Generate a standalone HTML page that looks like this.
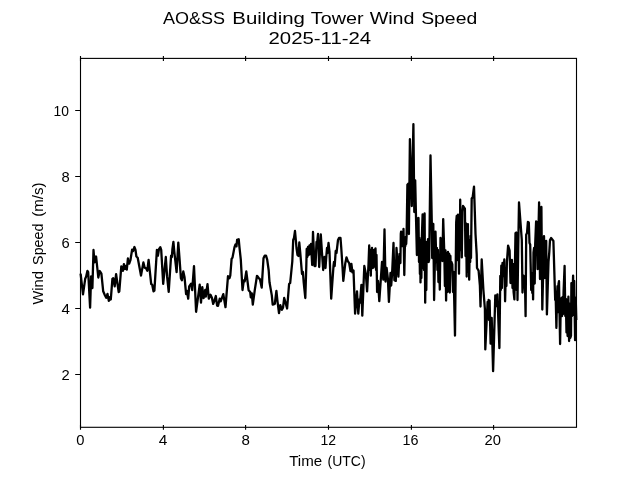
<!DOCTYPE html>
<html><head><meta charset="utf-8">
<style>
html,body{margin:0;padding:0;background:#fff;}
svg{display:block;}
text{font-family:"Liberation Sans",sans-serif;fill:#000;}
text{filter:grayscale(1)}
</style></head>
<body>
<svg width="640" height="480" viewBox="0 0 640 480">
<rect width="640" height="480" fill="#fff"/>
<!-- title -->
<g font-size="17" id="t1">
<text id="w1" x="163" y="23.5" textLength="62" lengthAdjust="spacingAndGlyphs">AO&amp;SS</text>
<text id="w2" x="232.3" y="23.5" textLength="72.6" lengthAdjust="spacingAndGlyphs">Building</text>
<text id="w3" x="310.8" y="23.5" textLength="52.8" lengthAdjust="spacingAndGlyphs">Tower</text>
<text id="w4" x="369.7" y="23.5" textLength="44.8" lengthAdjust="spacingAndGlyphs">Wind</text>
<text id="w5" x="421.2" y="23.5" textLength="56" lengthAdjust="spacingAndGlyphs">Speed</text>
</g>
<text id="w6" x="268.5" y="44" font-size="17" textLength="102.7" lengthAdjust="spacingAndGlyphs">2025-11-24</text>
<!-- line -->
<polyline id="ln" fill="none" stroke="#000" stroke-width="2.3" stroke-linejoin="round" stroke-linecap="butt" points="80.6,273.6 83,294.3 85.2,278.8 86.1,276.8 87.4,270.9 88.2,272.2 90.1,307.7 91.1,276.4 92.4,288 93.5,250 94.5,262.4 96.1,256.5 98.3,277.5 99.7,271 101.4,273.6 103.2,291.3 104.9,295.2 106.2,297.8 107.5,293.9 108.8,300.9 109.9,297.2 110.8,299.5 112.4,278.8 113.2,278.2 114.7,286.4 116.1,274.2 118.7,292.2 119.3,291.3 121.3,266.3 122.9,270.9 123.9,264.1 125,269 126.3,265.7 126.8,269.6 127.9,258.5 129.2,263.7 130.5,259.8 132.1,249.7 133.1,251 134.4,247 135.5,250 136.4,256.5 137.7,257.8 141,275.5 143.4,262.4 144.7,267.7 146,268.3 147.3,270.7 148.6,259.8 151.2,284.1 152.2,284.7 153.5,291.3 154.4,290.6 156.9,249.8 157.9,255.7 159,249.1 160.3,247.2 161.2,249.8 163.2,283.9 165.8,257 167.1,276.7 168.7,291.8 171.1,255.7 171.9,257 172.4,249.1 173.4,241.9 174.3,251.7 176.6,272.1 178.3,242.6 179.6,259.6 180.9,278.2 181.9,280.2 183.3,271.4 184.5,276.9 186.1,294.1 186.9,290.8 188.2,298.7 189.2,286.4 191.1,283.6 192.2,290.1 194,266.2 196.1,311.8 199.7,284.6 201,302.6 202.3,287.2 203.6,298 205.2,289.9 205.8,296.7 207.5,284.2 208.8,298.7 210.5,294.7 211.9,297.7 213.2,303.9 214.5,300.6 215.8,296 217.1,305.6 218,305.9 219.7,298.7 220.7,301.3 223.3,294.1 225.5,307.2 228,276.2 229.5,278.2 230.3,275.5 231.6,258.9 232.5,257.6 234.5,247.1 235.5,244.5 236.5,246.4 237.1,239.9 238.7,239.2 239.5,247.7 240.8,259.6 242.5,290 243.8,280.5 244.7,281.4 246.3,271.4 248.6,290.2 250.2,292 250.8,297.3 251.8,293.4 252.8,304.6 254.8,289.9 257,275.8 258.5,277.8 260,279.4 261.7,287.6 263.5,258.3 264.7,255.6 266,255.6 267.2,259.6 268.7,270.5 269.5,282.3 271.8,295.4 272.7,304.6 274.8,303.9 276.4,290.8 277.4,300.6 279,313.1 280.3,305.2 281.9,309.8 283,307.8 284.2,298 285.3,301.9 287.1,308.5 289.1,284 290.2,282.9 292.3,261.5 293.2,240 294,238 295,231 296,242 296.5,248 297.5,255 298.5,256 299.3,242.5 300.2,252 302,274 302.9,271.8 303.7,282.3 305.3,298 306.3,266 306.7,249 307.3,257 308,247 308.7,255 309.5,245.5 310.2,254 311,244 312.2,265 313,232 314.5,266 315.5,266 316.5,242 317,244 318,234 319.2,267 320.8,234.5 322,253 323.2,270 324.5,257 325.5,268 326.5,254 327,248 327.5,253 328.5,243 329.5,252 331.2,298.7 333.5,266 334,262 334.7,266 335.7,251 336.5,253 338,240 339,238 340.5,238 341.2,247 342.5,267 343.3,280.9 345.3,263.2 346.5,257.3 347.8,261.2 349.2,263.2 350.5,271.1 351.4,263.8 352.4,272.4 353.5,270.4 355.1,313.7 357,291.4 358.3,313.7 359.4,299.3 360,302.6 361.4,284.8 362.3,315.7 364.3,266 365.8,273.7 367.1,291.4 368.5,264.5 369.2,245.5 369.9,270 370.3,250 370.8,275.7 371.4,252 372,248 372.6,268 373,250 373.6,267.5 374.2,250 374.8,266 375.5,248.5 376.1,270 376.5,255 377.1,292 378,281 379.3,301.2 382,262 383.3,279.6 384.5,229.5 385.5,281.6 386.6,267.8 387.9,279 388.9,301.9 390.5,273 391.2,285.5 392.1,273.7 393.5,243 394.4,280.2 395.8,280.9 396.5,248 398.4,276.7 399.5,254 400.4,263 400.8,234 401.1,231.6 401.5,246 401.9,233 402.3,246 402.7,232 403.1,245 403.5,229 404.3,275 405,240 405.4,246 405.8,237 406.2,244 406.6,236 407.4,184.8 408.5,183.5 408.9,234 409.9,139.2 411.8,206 413.4,124.2 414.3,212 415.2,180.4 416,217 416.9,255 417.7,218.5 418.5,217.9 419,262 419.4,238 419.9,274 420.2,245 420.5,282.4 421,240 421.4,278 421.9,236 422.6,214.5 423.1,268 423.6,224 424,270 424.6,213.4 425.2,302.7 425.8,245 426.3,290 426.8,242 427.4,262 428,239.2 428.6,262 429.2,259.2 430.5,155.5 431.8,223.5 432.2,258 432.7,224 433.3,224 434.1,300 435.5,231.7 436.3,262 436.9,248 437.4,270 437.9,250 438.4,282 439,256 439.8,289.6 440.5,238 441,258 441.6,243 442.4,261 443.2,219.1 444.3,253 444.9,286 445.5,250.5 446.1,300.6 446.8,254 447.4,292 448,252 448.6,291 449.2,254 449.8,292.5 450.4,256 450.8,270 451.4,262 452.3,264.5 453,292 453.6,272 455,335.6 456.2,222 456.7,216 457.2,260 457.6,218 458,214.7 459,273.7 459.6,215 460,250 460.2,199.7 460.8,250 461.2,212 461.8,257.4 462.4,212 463,206 464.9,208.7 465.5,256 466.1,223.5 466.7,276.6 467.2,228 467.6,270 467.9,224.1 468.4,272 468.8,240 469.2,279.7 469.8,242 470.2,262 470.6,236 471,258 471.7,198.5 472.7,197.2 474,186.6 475.5,233.7 476.7,254.5 477,268 478.6,270.7 479.9,285.7 480.5,306.5 481.7,259.5 483.4,290 484.9,309 485.3,349.4 487.6,302 488.1,318 488.6,300 489.1,320 489.6,300.6 490.6,343.7 491.7,318 493.1,371.2 495.3,295.3 496.4,306 497.4,294.4 499.4,348.1 500.3,276 500.8,290 501.3,265.7 501.9,288 502.5,263 503.4,276 504.3,259.5 505.1,301.3 505.9,268 506.4,286 506.9,262 508.1,245.6 509.6,250.5 510.5,283 511.2,262 511.9,259.9 512.5,288 513,264 513.6,292 514.4,299.4 515,262 515.5,233.1 516.2,232.5 516.7,290 517.1,250 517.5,300 518.2,250 519,202.5 521.8,240 522.5,292.5 523.6,275.7 524.9,278 525.6,316.2 526.2,234.7 527,233 527.9,221.9 528.8,222.5 529.5,243 530.2,244.5 530.6,263 531.2,290 531.7,273 532.3,293 532.7,278 533.1,299.4 533.5,252.7 534.1,248 534.7,283.5 535.2,244.1 536.1,221.5 536.8,222 537.6,269.2 539.1,202.4 540,279 541.4,206.9 542.3,309.5 544,236.1 544.9,278 546.2,241 546.9,314.4 548.5,262 549.3,252 550,240 551.1,238 553.4,241 555.2,300 555.6,292 556.4,327.9 557,296 557.5,286.1 558,312 558.5,284 559,281.2 559.6,316 560.1,344 560.8,299 561.2,316 561.6,298 562.1,316 562.6,297 563.1,314 563.6,291 564.6,265.9 565.3,316 565.8,299 566.5,332.4 567,300 567.6,336 568.4,296.7 569.1,341 569.7,304 570.3,338 571,335.7 571.4,283.1 572,316 572.5,296 573.1,275.6 573.7,315 574.2,281 575.1,340.2 575.7,298 576.3,320"/>
<!-- spines -->
<rect x="80.5" y="58.4" width="496" height="368.9" fill="none" stroke="#000" stroke-width="1.11"/>
<!-- x ticks -->
<g stroke="#000" stroke-width="1.11">
<path d="M80.5 424.9v4.9M163.4 424.9v4.9M245.6 424.9v4.9M328.5 424.9v4.9M411.4 424.9v4.9M493.6 424.9v4.9"/>
<path d="M80.5 56v4.9M163.4 56v4.9M245.6 56v4.9M328.5 56v4.9M411.4 56v4.9M493.6 56v4.9"/>
<path d="M75.2 110.5h5M75.2 176.5h5M75.2 242.5h5M75.2 308.5h5M75.2 374.5h5"/>
</g>
<!-- tick labels -->
<g font-size="14.1">
<text x="76.2" y="445.2" textLength="8.2" lengthAdjust="spacingAndGlyphs">0</text>
<text x="158.8" y="445.2" textLength="8.6" lengthAdjust="spacingAndGlyphs">4</text>
<text x="241.5" y="445.2" textLength="8.4" lengthAdjust="spacingAndGlyphs">8</text>
<text x="320.4" y="445.2" textLength="15.6" lengthAdjust="spacingAndGlyphs">12</text>
<text x="402.6" y="445.2" textLength="16" lengthAdjust="spacingAndGlyphs">16</text>
<text x="484.6" y="445.2" textLength="16.4" lengthAdjust="spacingAndGlyphs">20</text>
<text x="53.6" y="115.9" textLength="15.4" lengthAdjust="spacingAndGlyphs">10</text>
<text x="61.5" y="181.9" textLength="8.2" lengthAdjust="spacingAndGlyphs">8</text>
<text x="61.5" y="247.9" textLength="8.2" lengthAdjust="spacingAndGlyphs">6</text>
<text x="61.6" y="313.9" textLength="8.4" lengthAdjust="spacingAndGlyphs">4</text>
<text x="61.5" y="379.9" textLength="8.2" lengthAdjust="spacingAndGlyphs">2</text>
</g>
<text id="x1" x="289.2" y="465.5" font-size="14.1" textLength="33" lengthAdjust="spacingAndGlyphs">Time</text>
<text id="x2" x="327.6" y="465.5" font-size="14.1" textLength="38" lengthAdjust="spacingAndGlyphs">(UTC)</text>
<g transform="translate(43 0) rotate(-90)" font-size="14.1">
<text id="y1" x="-304.5" y="0" textLength="33.4" lengthAdjust="spacingAndGlyphs">Wind</text>
<text id="y2" x="-264.9" y="0" textLength="41.4" lengthAdjust="spacingAndGlyphs">Speed</text>
<text id="y3" x="-216.8" y="0" textLength="34.4" lengthAdjust="spacingAndGlyphs">(m/s)</text>
</g>
</svg>
</body></html>
